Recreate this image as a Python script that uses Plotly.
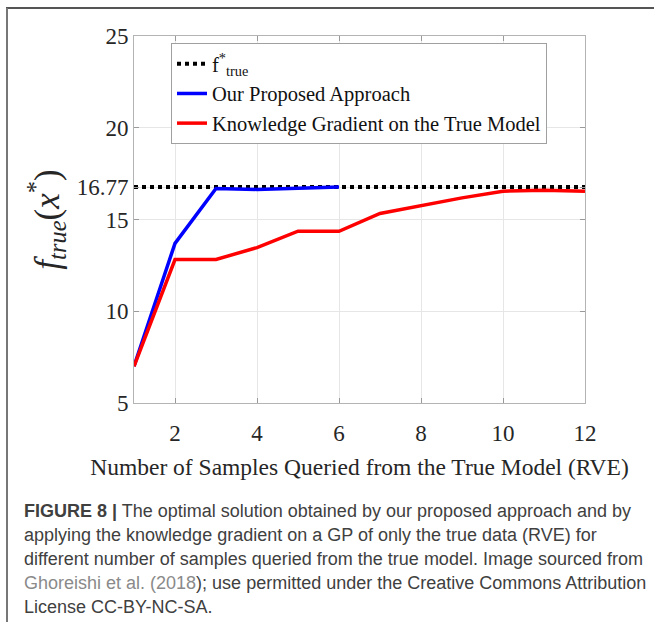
import plotly.graph_objects as go

# ---- data ----
samples_proposed = [1, 2, 3, 4, 5, 6]
f_proposed = [7.0, 13.7, 16.69, 16.64, 16.70, 16.77]

samples_kg = [1, 2, 3, 4, 5, 6, 7, 8, 9, 10, 11, 12]
f_kg = [7.0, 12.82, 12.82, 13.47, 14.36, 14.36, 15.33, 15.74, 16.18, 16.54, 16.60, 16.54]

f_true_star = 16.77
x_span = [1, 12]

x_tickvals = [2, 4, 6, 8, 10, 12]
y_tickvals = [5, 10, 15, 16.77, 20, 25]
y_ticktext = ["5", "10", "15", "16.77", "20", "25"]

caption_lines = [
    "<b>FIGURE 8 |</b> The optimal solution obtained by our proposed approach and by",
    "applying the knowledge gradient on a GP of only the true data (RVE) for",
    "different number of samples queried from the true model. Image sourced from",
    "<span style='color:#8a8a8a'>Ghoreishi et al. (2018</span>); use permitted under the Creative Commons Attribution",
    "License CC-BY-NC-SA.",
]

# ---- layout geometry (pixels) ----
W, H = 654, 627
L, R, T, B = 134, 585, 36, 403
PW, PH = R - L, B - T


def px(x):
    return (x - L) / PW


def py(y):
    return (B - y) / PH


serif = "Liberation Serif, Times New Roman, serif"
sans = "Liberation Sans, Arial, sans-serif"

fig = go.Figure()
fig.add_trace(go.Scatter(
    x=x_span, y=[f_true_star] * 2, mode="lines",
    line=dict(color="black", width=4, dash="dot"),
    name="f<sup>*</sup><sub>true</sub>",
))
fig.add_trace(go.Scatter(
    x=samples_proposed, y=f_proposed, mode="lines",
    line=dict(color="#0000ff", width=3.5),
    name="Our Proposed Approach",
))
fig.add_trace(go.Scatter(
    x=samples_kg, y=f_kg, mode="lines",
    line=dict(color="#ff0000", width=3.5),
    name="Knowledge Gradient on the True Model",
))

axis_common = dict(
    showline=True, linecolor="#b4b4b4", linewidth=1, mirror="ticks",
    ticks="inside", ticklen=5, tickcolor="#9a9a9a",
    showgrid=True, gridcolor="#e6e6e6", gridwidth=1, zeroline=False,
    tickfont=dict(family=serif, size=23, color="#262626"),
)

fig.update_xaxes(
    range=x_span, tickvals=x_tickvals, ticklabelstandoff=9,
    title=dict(text="Number of Samples Queried from the True Model (RVE)",
               font=dict(family=serif, size=23.5, color="#262626"), standoff=13),
    **axis_common,
)
fig.update_yaxes(
    range=[5, 25], tickvals=y_tickvals, ticktext=y_ticktext,
    title=dict(text="<i>f</i><sub><i>true</i></sub>(<i>x</i><sup>*</sup>)",
               font=dict(family=serif, size=35, color="#262626"), standoff=6),
    **axis_common,
)

annotations = []
line_centers = [511, 535, 559, 583, 607]
for txt, yc in zip(caption_lines, line_centers):
    annotations.append(dict(
        text=txt, xref="paper", yref="paper", x=px(22), y=py(yc),
        xanchor="left", yanchor="middle", showarrow=False, align="left",
        font=dict(family=sans, size=18, color="#404040"),
    ))

shapes = [
    dict(type="line", xref="paper", yref="paper", x0=px(6), x1=px(654),
         y0=py(8), y1=py(8), line=dict(color="#555555", width=2)),
    dict(type="line", xref="paper", yref="paper", x0=px(7), x1=px(7),
         y0=py(8), y1=py(622), line=dict(color="#777777", width=2)),
]

fig.update_layout(
    width=W, height=H,
    margin=dict(l=L, r=W - R, t=T, b=H - B, autoexpand=False),
    paper_bgcolor="white", plot_bgcolor="white",
    showlegend=True,
    legend=dict(
        x=px(171), y=py(43), xanchor="left", yanchor="top",
        bgcolor="white", bordercolor="#a0a0a0", borderwidth=1,
        font=dict(family=serif, size=20.5, color="#111111"),
        itemwidth=30, tracegroupgap=0,
    ),
    annotations=annotations,
    shapes=shapes,
)

fig.write_html(
    "out.html",
    config={"displayModeBar": False},
    post_script="document.body.style.margin='0px';document.body.style.overflow='hidden';",
)
